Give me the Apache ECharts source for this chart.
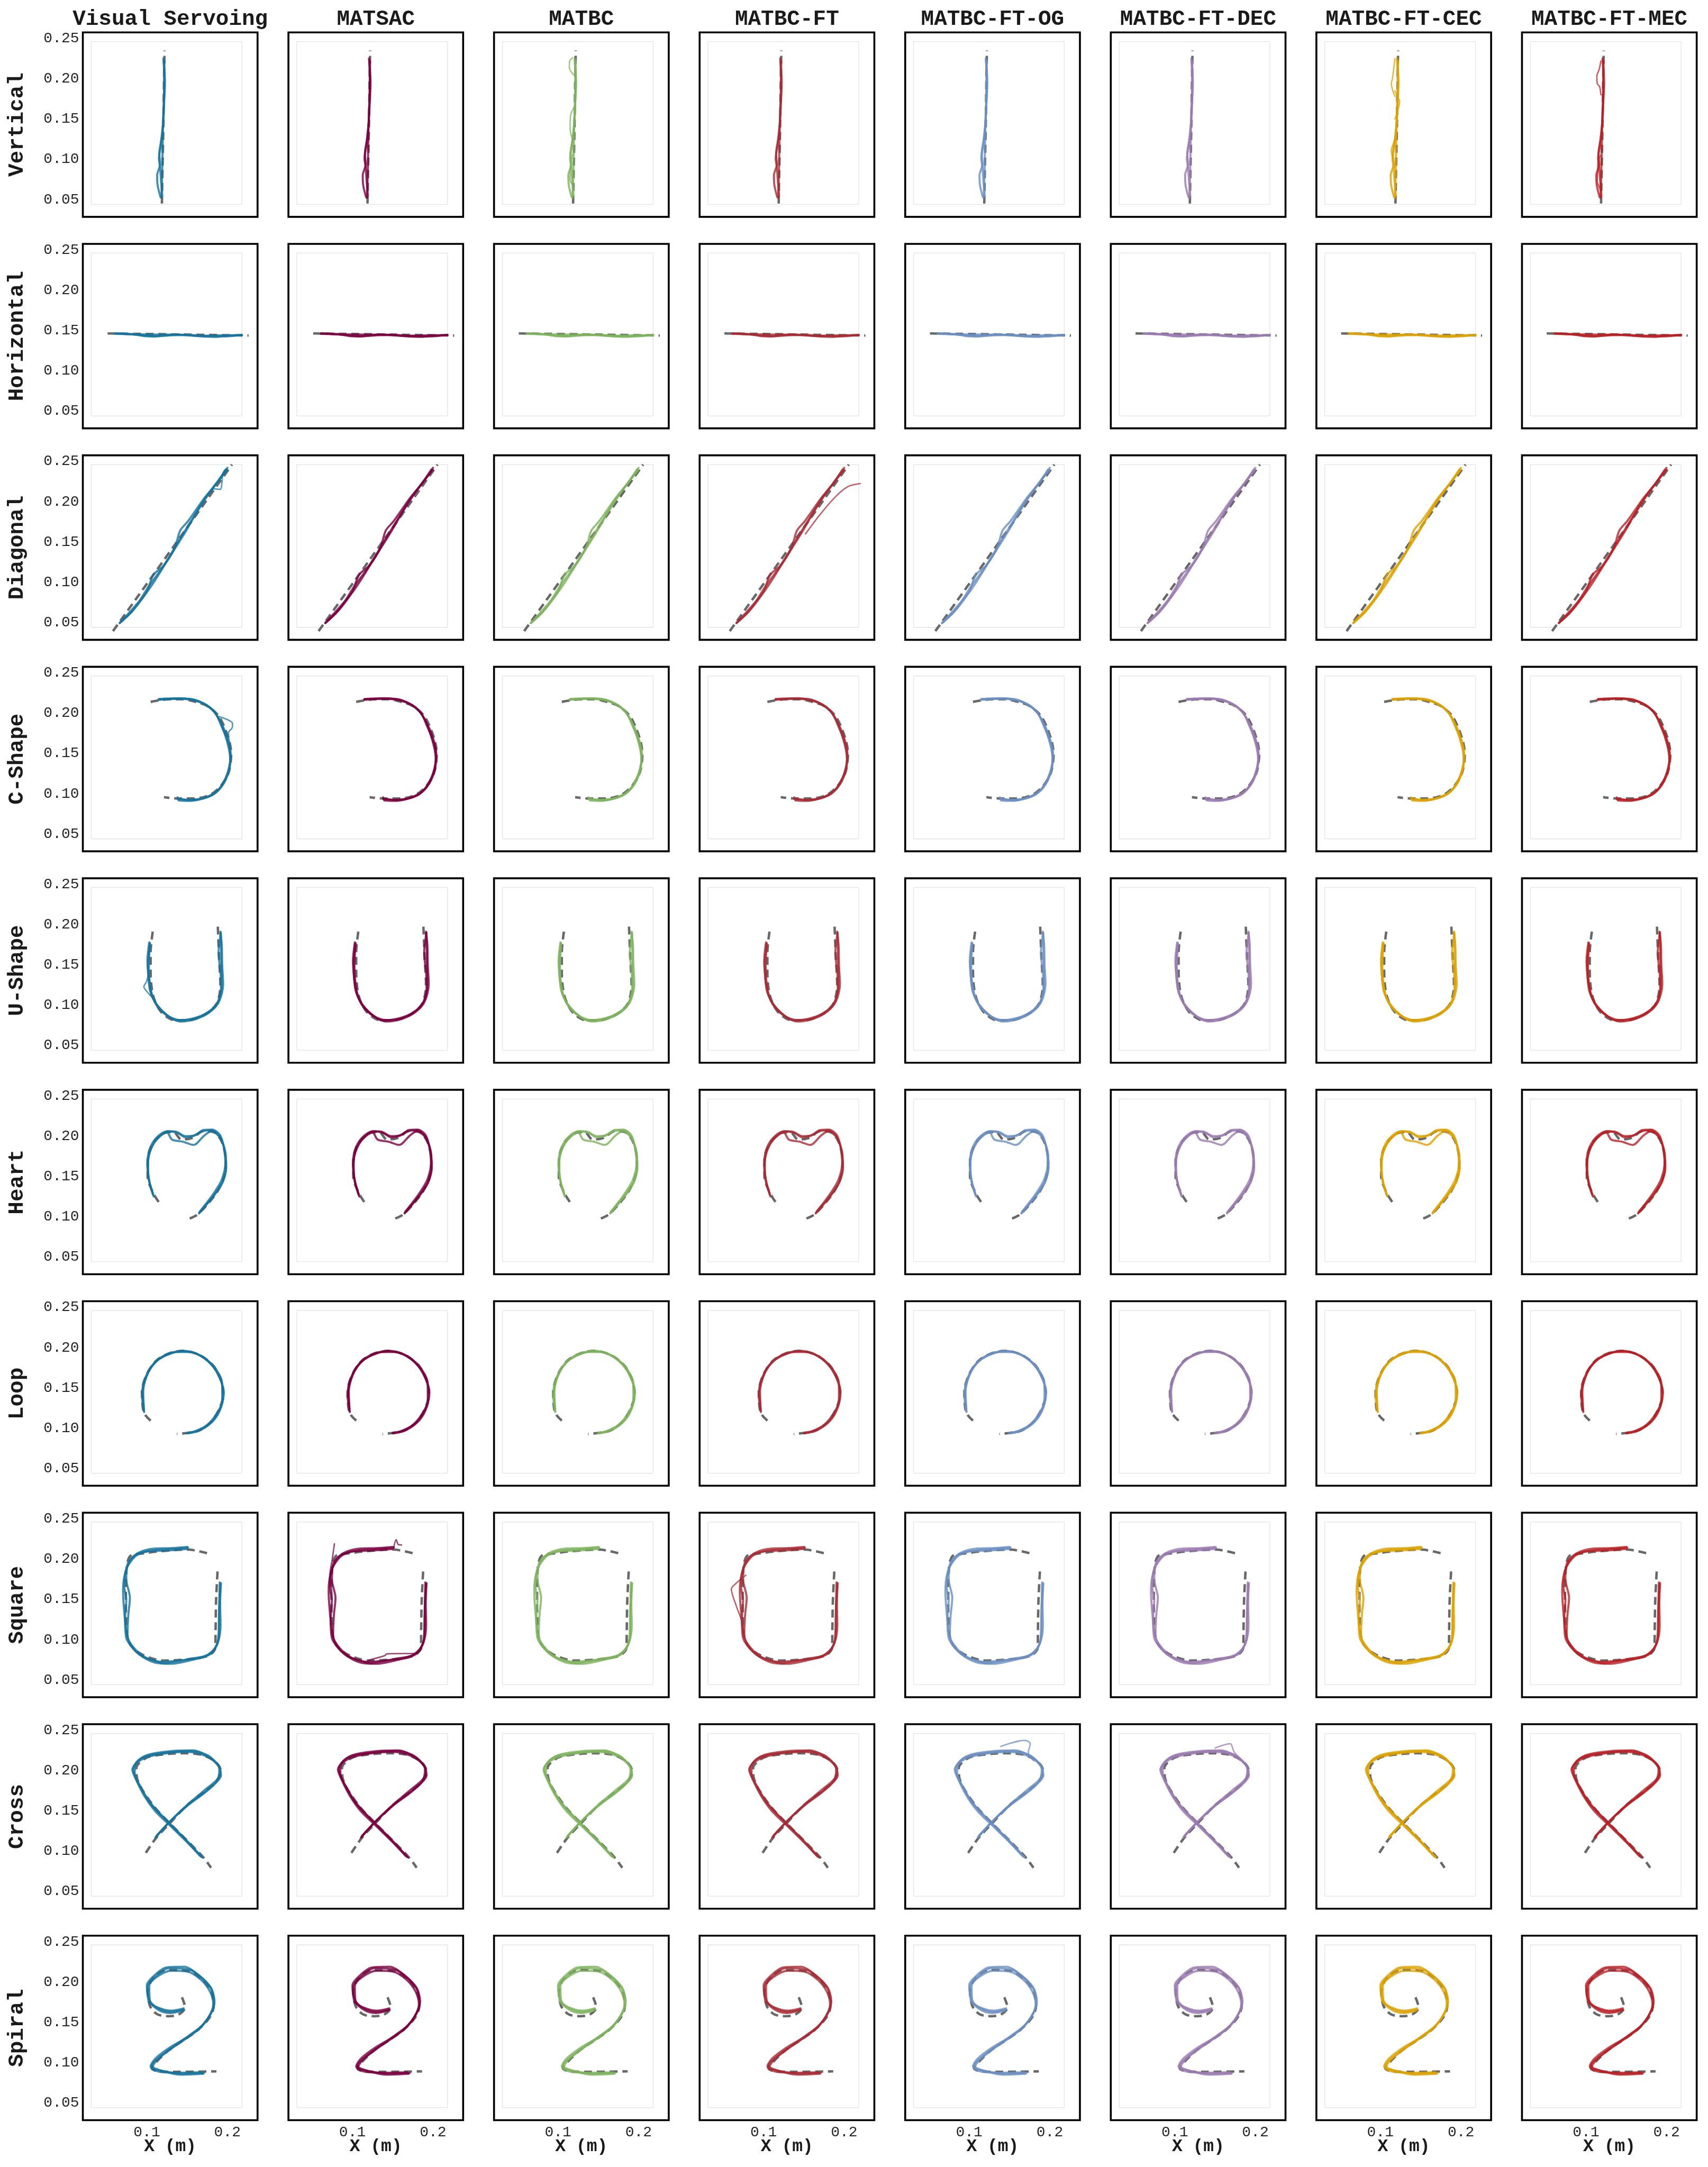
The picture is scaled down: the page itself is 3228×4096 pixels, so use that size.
<!DOCTYPE html>
<html>
<head>
<meta charset="utf-8">
<script src="https://cdn.jsdelivr.net/npm/echarts@6/dist/echarts.min.js"></script>
<style>
html,body{margin:0;padding:0;background:#fff;}
#chart{width:3228px;height:4096px;}
</style>
</head>
<body>
<div id="chart"></div>
<script>
// ---------------- DATA ----------------
const methods = ['Visual Servoing','MATSAC','MATBC','MATBC-FT','MATBC-FT-OG','MATBC-FT-DEC','MATBC-FT-CEC','MATBC-FT-MEC'];
const shapes = ['Vertical','Horizontal','Diagonal','C-Shape','U-Shape','Heart','Loop','Square','Cross','Spiral'];
const xTickValues = [0.1, 0.2];
const yTickValues = [0.05, 0.10, 0.15, 0.20, 0.25];
const xRange = [0.0206, 0.2374];
const yRange = [0.0285, 0.2575];
const workspaceX = [0.031, 0.218];
const workspaceY = [0.044, 0.246];
const xAxisName = 'X (m)';

const refVertical = [[0.1187,0.045],[0.1195,0.09],[0.1205,0.14],[0.1212,0.19],[0.122,0.235]];
const trialsVertical = [
  [[0.118,0.052],[0.119,0.08],[0.1195,0.11],[0.120,0.14],[0.121,0.17],[0.1215,0.20],[0.121,0.222]],
  [[0.117,0.053],[0.1135,0.067],[0.1128,0.080],[0.1165,0.094],[0.1155,0.107],[0.118,0.125],[0.1205,0.150],[0.1215,0.180],[0.1218,0.222]],
  [[0.1192,0.055],[0.1175,0.075],[0.1165,0.090],[0.1150,0.101],[0.1172,0.116],[0.1195,0.135],[0.1208,0.160],[0.1225,0.195],[0.1205,0.225]]
];

const refHorizontal = [[0.0513,0.1463],[0.14,0.1450],[0.2263,0.1437]];
const trialsHorizontal = [
  [[0.061,0.1463],[0.09,0.1445],[0.108,0.1425],[0.13,0.1440],[0.15,0.1443],[0.17,0.1425],[0.185,0.1420],[0.20,0.1435],[0.218,0.1442]],
  [[0.061,0.1458],[0.09,0.1452],[0.12,0.1448],[0.15,0.1445],[0.175,0.1435],[0.195,0.1440],[0.218,0.1440]],
  [[0.062,0.1465],[0.085,0.1450],[0.10,0.1428],[0.115,0.1432],[0.135,0.1452],[0.15,0.1440],[0.162,0.1432],[0.18,0.1430],[0.195,0.1426],[0.218,0.1447]]
];

const refDiagonal = [[0.058,0.0393],[0.132,0.1427],[0.2057,0.246]];
const trialsDiagonal = [
  [[0.0663,0.0493],[0.0813,0.0633],[0.0997,0.0877],[0.1080,0.1090],[0.1213,0.1210],[0.1347,0.1427],[0.1413,0.1640],[0.1513,0.1760],[0.1713,0.2043],[0.1850,0.2210],[0.1980,0.2400]],
  [[0.0663,0.0493],[0.1013,0.0893],[0.1280,0.1310],[0.1480,0.1627],[0.1713,0.2027],[0.1997,0.2393]],
  [[0.0670,0.0500],[0.0850,0.0680],[0.1030,0.0960],[0.1150,0.1120],[0.1300,0.1350],[0.1400,0.1520],[0.1550,0.1760],[0.1750,0.2070],[0.1950,0.2340],[0.2000,0.2420]]
];

const refCShape = [[0.1047,0.2140],[0.1250,0.2170],[0.1447,0.2173],[0.1620,0.2135],[0.1747,0.2090],[0.1897,0.1957],[0.2013,0.1690],[0.2047,0.1490],[0.2013,0.1257],[0.1913,0.1090],[0.1780,0.0983],[0.1580,0.0940],[0.1380,0.0940],[0.1213,0.0957]];
const trialsCShape = [
  [[0.1147,0.2170],[0.1350,0.2180],[0.1547,0.2175],[0.1720,0.2110],[0.1850,0.2000],[0.1930,0.1830],[0.2000,0.1660],[0.2037,0.1480],[0.2023,0.1300],[0.1950,0.1120],[0.1830,0.0993],[0.1680,0.0935],[0.1520,0.0910],[0.1400,0.0915],[0.1380,0.0955]],
  [[0.1147,0.2165],[0.1400,0.2178],[0.1650,0.2140],[0.1820,0.2035],[0.1910,0.1900],[0.1990,0.1720],[0.2040,0.1500],[0.2000,0.1250],[0.1900,0.1060],[0.1750,0.0960],[0.1550,0.0920],[0.1390,0.0940]],
  [[0.1150,0.2175],[0.1400,0.2185],[0.1600,0.2160],[0.1780,0.2075],[0.1900,0.1920],[0.1965,0.1750],[0.2020,0.1550],[0.2035,0.1400],[0.1990,0.1220],[0.1880,0.1040],[0.1720,0.0950],[0.1500,0.0925],[0.1390,0.0930]]
];

const refUShape = [[0.1073,0.1913],[0.1047,0.1650],[0.1047,0.1413],[0.1080,0.1113],[0.1180,0.0913],[0.1347,0.0813],[0.1513,0.0813],[0.1713,0.0880],[0.1863,0.1013],[0.1913,0.1247],[0.1897,0.1580],[0.1880,0.1997]];
const trialsUShape = [
  [[0.1030,0.1780],[0.1007,0.1550],[0.1020,0.1350],[0.1040,0.1180],[0.1097,0.1047],[0.1180,0.0940],[0.1247,0.0880],[0.1340,0.0820],[0.1430,0.0797],[0.1613,0.0830],[0.1780,0.0913],[0.1897,0.1047],[0.1947,0.1263],[0.1935,0.1500],[0.1930,0.1750],[0.1913,0.1913]],
  [[0.1035,0.1760],[0.1015,0.1500],[0.1025,0.1300],[0.1080,0.1080],[0.1200,0.0920],[0.1380,0.0810],[0.1550,0.0830],[0.1720,0.0890],[0.1860,0.1000],[0.1920,0.1200],[0.1915,0.1400],[0.1890,0.1650],[0.1905,0.1800],[0.1915,0.1900]],
  [[0.1040,0.1770],[0.1025,0.1480],[0.1040,0.1250],[0.1080,0.1080],[0.1150,0.0960],[0.1270,0.0860],[0.1420,0.0815],[0.1600,0.0835],[0.1750,0.0905],[0.1880,0.1035],[0.1930,0.1250],[0.1925,0.1550],[0.1918,0.1900]]
];

const refHeart = [[0.1147,0.1183],[0.1075,0.1300],[0.1010,0.1500],[0.1010,0.1700],[0.1070,0.1900],[0.1200,0.2030],[0.1330,0.2050],[0.1430,0.1957],[0.1570,0.1980],[0.1700,0.2060],[0.1830,0.2050],[0.1930,0.1930],[0.1980,0.1700],[0.1960,0.1500],[0.1880,0.1320],[0.1750,0.1150],[0.1620,0.1020],[0.1497,0.0963]];
const trialsHeart = [
  [[0.1080,0.1273],[0.1030,0.1440],[0.1007,0.1640],[0.1030,0.1823],[0.1113,0.1973],[0.1247,0.2057],[0.1347,0.2057],[0.1480,0.2000],[0.1580,0.2007],[0.1680,0.2057],[0.1797,0.2073],[0.1897,0.2007],[0.1963,0.1840],[0.1980,0.1640],[0.1947,0.1440],[0.1863,0.1307],[0.1747,0.1157],[0.1647,0.1040]],
  [[0.1085,0.1250],[0.1035,0.1420],[0.1012,0.1600],[0.1035,0.1800],[0.1120,0.1955],[0.1250,0.2045],[0.1313,0.1957],[0.1450,0.1930],[0.1580,0.1890],[0.1713,0.2007],[0.1800,0.2060],[0.1900,0.1990],[0.1970,0.1820],[0.1985,0.1600],[0.1935,0.1420],[0.1840,0.1270],[0.1720,0.1130],[0.1650,0.1045]],
  [[0.1075,0.1280],[0.1025,0.1460],[0.1015,0.1680],[0.1060,0.1860],[0.1150,0.1990],[0.1260,0.2062],[0.1380,0.2040],[0.1480,0.1985],[0.1600,0.2010],[0.1700,0.2075],[0.1810,0.2080],[0.1910,0.2010],[0.1955,0.1860],[0.1975,0.1660],[0.1930,0.1460],[0.1850,0.1320],[0.1750,0.1180],[0.1655,0.1060]]
];

const refLoop = [[0.1047,0.1093],[0.0963,0.1193],[0.0940,0.1450],[0.1000,0.1670],[0.1120,0.1840],[0.1280,0.1930],[0.1450,0.1960],[0.1650,0.1910],[0.1820,0.1780],[0.1920,0.1600],[0.1950,0.1420],[0.1900,0.1240],[0.1800,0.1080],[0.1650,0.0970],[0.1500,0.0940],[0.1373,0.0927]];
const trialsLoop = [
  [[0.0963,0.1210],[0.0947,0.1493],[0.1013,0.1693],[0.1113,0.1827],[0.1247,0.1910],[0.1447,0.1960],[0.1647,0.1910],[0.1813,0.1777],[0.1913,0.1610],[0.1947,0.1427],[0.1913,0.1260],[0.1830,0.1110],[0.1713,0.1010],[0.1580,0.0953],[0.1497,0.0937]],
  [[0.0965,0.1230],[0.0955,0.1450],[0.1000,0.1650],[0.1100,0.1810],[0.1240,0.1905],[0.1440,0.1955],[0.1630,0.1915],[0.1800,0.1790],[0.1900,0.1630],[0.1955,0.1450],[0.1925,0.1270],[0.1845,0.1115],[0.1720,0.1005],[0.1590,0.0950],[0.1500,0.0935]],
  [[0.0968,0.1200],[0.0940,0.1400],[0.0980,0.1600],[0.1055,0.1760],[0.1180,0.1880],[0.1350,0.1945],[0.1520,0.1945],[0.1700,0.1880],[0.1850,0.1740],[0.1935,0.1550],[0.1935,0.1330],[0.1860,0.1170],[0.1750,0.1040],[0.1610,0.0965],[0.1510,0.0945]]
];

const refSquare = [[0.1747,0.2073],[0.1513,0.2117],[0.1200,0.2100],[0.0950,0.2070],[0.0797,0.2040],[0.0750,0.1900],[0.0740,0.1500],[0.0750,0.1100],[0.0800,0.0930],[0.0950,0.0810],[0.1200,0.0740],[0.1500,0.0755],[0.1763,0.0800],[0.1850,0.0900],[0.1853,0.1123],[0.1860,0.1500],[0.1880,0.1890]];
const trialsSquare = [
  [[0.1513,0.2140],[0.1300,0.2125],[0.1100,0.2110],[0.0920,0.2070],[0.0830,0.2007],[0.0740,0.1860],[0.0720,0.1660],[0.0745,0.1490],[0.0730,0.1260],[0.0745,0.1020],[0.0830,0.0890],[0.0947,0.0790],[0.1080,0.0745],[0.1213,0.0707],[0.1400,0.0735],[0.1513,0.0757],[0.1747,0.0807],[0.1863,0.0923],[0.1897,0.1090],[0.1900,0.1390],[0.1913,0.1690]],
  [[0.1500,0.2125],[0.1250,0.2105],[0.1000,0.2095],[0.0850,0.2045],[0.0765,0.1950],[0.0745,0.1750],[0.0790,0.1520],[0.0770,0.1300],[0.0760,0.1050],[0.0850,0.0885],[0.1000,0.0770],[0.1200,0.0725],[0.1450,0.0745],[0.1700,0.0785],[0.1830,0.0870],[0.1885,0.1000],[0.1895,0.1300],[0.1900,0.1500],[0.1905,0.1710]],
  [[0.1505,0.2150],[0.1300,0.2135],[0.1100,0.2130],[0.0900,0.2080],[0.0795,0.1980],[0.0725,0.1800],[0.0705,0.1600],[0.0715,0.1400],[0.0740,0.1150],[0.0780,0.0970],[0.0900,0.0820],[0.1100,0.0715],[0.1300,0.0700],[0.1550,0.0745],[0.1780,0.0815],[0.1880,0.0960],[0.1915,0.1180],[0.1910,0.1450],[0.1920,0.1700]]
];

const refCross = [[0.0987,0.0977],[0.1113,0.1160],[0.1280,0.1340],[0.1500,0.1570],[0.1720,0.1740],[0.1860,0.1860],[0.1920,0.1990],[0.1860,0.2100],[0.1700,0.2190],[0.1500,0.2215],[0.1250,0.2205],[0.1000,0.2160],[0.0870,0.2030],[0.0880,0.1900],[0.0950,0.1750],[0.1100,0.1540],[0.1280,0.1350],[0.1500,0.1130],[0.1697,0.0927],[0.1797,0.0793]];
const trialsCross = [
  [[0.1113,0.1177],[0.1280,0.1360],[0.1513,0.1577],[0.1713,0.1727],[0.1863,0.1860],[0.1913,0.1993],[0.1863,0.2093],[0.1747,0.2193],[0.1547,0.2243],[0.1280,0.2227],[0.0980,0.2177],[0.0880,0.2110],[0.0830,0.2027],[0.0913,0.1810],[0.1063,0.1577],[0.1263,0.1360],[0.1480,0.1143],[0.1680,0.0927]],
  [[0.1120,0.1190],[0.1300,0.1380],[0.1520,0.1590],[0.1720,0.1760],[0.1880,0.1900],[0.1900,0.2020],[0.1840,0.2110],[0.1720,0.2185],[0.1520,0.2230],[0.1250,0.2215],[0.0960,0.2150],[0.0820,0.2010],[0.0860,0.1900],[0.0960,0.1700],[0.1100,0.1500],[0.1280,0.1325],[0.1500,0.1110],[0.1665,0.0935]],
  [[0.1105,0.1165],[0.1270,0.1350],[0.1500,0.1560],[0.1700,0.1710],[0.1830,0.1820],[0.1920,0.1940],[0.1890,0.2060],[0.1770,0.2170],[0.1570,0.2250],[0.1300,0.2240],[0.1000,0.2190],[0.0860,0.2080],[0.0850,0.1960],[0.0930,0.1780],[0.1035,0.1600],[0.1250,0.1375],[0.1470,0.1155],[0.1690,0.0920]]
];

const refSpiral = [[0.1436,0.1810],[0.1475,0.1683],[0.1400,0.1600],[0.1280,0.1575],[0.1130,0.1600],[0.1040,0.1700],[0.1010,0.1880],[0.1080,0.2050],[0.1250,0.2150],[0.1500,0.2140],[0.1680,0.2040],[0.1800,0.1880],[0.1830,0.1700],[0.1780,0.1560],[0.1640,0.1410],[0.1460,0.1280],[0.1280,0.1160],[0.1120,0.1010],[0.1060,0.0930],[0.1150,0.0890],[0.1400,0.0885],[0.1864,0.0891]];
const trialsSpiral = [
  [[0.1456,0.1673],[0.1300,0.1644],[0.1164,0.1673],[0.1027,0.1751],[0.1008,0.1928],[0.1125,0.2084],[0.1280,0.2172],[0.1533,0.2152],[0.1690,0.2045],[0.1807,0.1908],[0.1834,0.1732],[0.1787,0.1595],[0.1670,0.1439],[0.1514,0.1322],[0.1280,0.1184],[0.1105,0.1049],[0.1047,0.0950],[0.1125,0.0911],[0.1436,0.0862],[0.1709,0.0871]],
  [[0.1445,0.1645],[0.1290,0.1615],[0.1150,0.1650],[0.1040,0.1760],[0.1030,0.1950],[0.1120,0.2060],[0.1300,0.2140],[0.1500,0.2130],[0.1670,0.2030],[0.1785,0.1880],[0.1825,0.1720],[0.1770,0.1570],[0.1650,0.1420],[0.1490,0.1300],[0.1300,0.1170],[0.1125,0.1030],[0.1065,0.0930],[0.1200,0.0880],[0.1450,0.0875],[0.1680,0.0880]],
  [[0.1460,0.1660],[0.1305,0.1630],[0.1165,0.1660],[0.1035,0.1770],[0.1000,0.1960],[0.1080,0.2070],[0.1240,0.2180],[0.1460,0.2190],[0.1650,0.2080],[0.1790,0.1930],[0.1840,0.1760],[0.1795,0.1610],[0.1685,0.1460],[0.1530,0.1340],[0.1350,0.1210],[0.1150,0.1060],[0.1060,0.0965],[0.1180,0.0900],[0.1430,0.0850],[0.1700,0.0860]]
];

// panel-specific extra trials (shape, method, path)
const extraVsDiagonal = [[0.1780,0.2100],[0.1813,0.2160],[0.1910,0.2153],[0.1947,0.2363],[0.1990,0.2410]];
const extraVsCShape = [[0.1897,0.1957],[0.2063,0.1873],[0.2060,0.1820],[0.2013,0.1757],[0.2030,0.1600]];
const extraVsUShape = [[0.1013,0.1350],[0.0990,0.1280],[0.0963,0.1230],[0.1000,0.1170],[0.1080,0.1080]];
const extraFtDiagonal = [[0.1520,0.1600],[0.1700,0.1840],[0.1900,0.2070],[0.2050,0.2190],[0.2200,0.2225]];
const extraFtSquare = [[0.0780,0.1800],[0.0660,0.1700],[0.0600,0.1630],[0.0660,0.1420],[0.0727,0.1230],[0.0745,0.1050]];
const extraSacSquareTop = [[0.1513,0.2140],[0.1543,0.2240],[0.1570,0.2180],[0.1610,0.2175]];
const extraSacSquareLeft = [[0.0777,0.2190],[0.0750,0.2000],[0.0720,0.1800],[0.0745,0.1600]];
const extraSacSquareBottom = [[0.1200,0.0745],[0.1400,0.0800],[0.1427,0.0823],[0.1790,0.0830],[0.1860,0.0890]];
const extraOgCross = [[0.1393,0.2299],[0.1687,0.2374],[0.1758,0.2333],[0.1733,0.2225],[0.1800,0.2120]];
const extraDecCross = [[0.1500,0.2280],[0.1687,0.2333],[0.1735,0.2232],[0.1820,0.2140]];
const extraBcVerticalTop = [[0.1180,0.2260],[0.1145,0.2220],[0.1140,0.2140],[0.1190,0.2050]];
const extraBcVerticalMid = [[0.1200,0.1650],[0.1155,0.1540],[0.1150,0.1400],[0.1160,0.1310],[0.1190,0.1220]];
const extraBcVerticalLow = [[0.1190,0.1080],[0.1160,0.0980],[0.1150,0.0850],[0.1150,0.0740],[0.1180,0.0680]];
const extraCecVerticalTop = [[0.1180,0.2250],[0.1165,0.2120],[0.1150,0.2000],[0.1135,0.1940],[0.1155,0.1850],[0.1180,0.1780]];
const extraCecVerticalMid = [[0.1180,0.1850],[0.1210,0.1780],[0.1240,0.1720],[0.1215,0.1600],[0.1180,0.1500]];
const extraCecVerticalLow = [[0.1180,0.1250],[0.1155,0.1180],[0.1135,0.1110],[0.1155,0.1000],[0.1180,0.0900]];
const extraMecVerticalTop = [[0.1185,0.2220],[0.1165,0.2120],[0.1135,0.2030],[0.1140,0.1940],[0.1170,0.1900],[0.1185,0.1800]];
const extraMecVerticalLow = [[0.1185,0.1050],[0.1150,0.0980],[0.1145,0.0850],[0.1140,0.0720],[0.1155,0.0680],[0.1185,0.0600]];
const extraTrialList = [
  ['Diagonal','Visual Servoing',extraVsDiagonal],
  ['C-Shape','Visual Servoing',extraVsCShape],
  ['U-Shape','Visual Servoing',extraVsUShape],
  ['Diagonal','MATBC-FT',extraFtDiagonal],
  ['Square','MATBC-FT',extraFtSquare],
  ['Square','MATSAC',extraSacSquareTop],
  ['Square','MATSAC',extraSacSquareLeft],
  ['Square','MATSAC',extraSacSquareBottom],
  ['Cross','MATBC-FT-OG',extraOgCross],
  ['Cross','MATBC-FT-DEC',extraDecCross],
  ['Vertical','MATBC',extraBcVerticalTop],
  ['Vertical','MATBC',extraBcVerticalMid],
  ['Vertical','MATBC',extraBcVerticalLow],
  ['Vertical','MATBC-FT-CEC',extraCecVerticalTop],
  ['Vertical','MATBC-FT-CEC',extraCecVerticalMid],
  ['Vertical','MATBC-FT-CEC',extraCecVerticalLow],
  ['Vertical','MATBC-FT-MEC',extraMecVerticalTop],
  ['Vertical','MATBC-FT-MEC',extraMecVerticalLow]
];

const refByShape = [refVertical,refHorizontal,refDiagonal,refCShape,refUShape,refHeart,refLoop,refSquare,refCross,refSpiral];
const trialsByShape = [trialsVertical,trialsHorizontal,trialsDiagonal,trialsCShape,trialsUShape,trialsHeart,trialsLoop,trialsSquare,trialsCross,trialsSpiral];

// ---------------- STYLE / LAYOUT ----------------
const methodColors = ['#15739e','#7a0040','#7db35c','#a82a35','#6a8fc2','#9a7bb0','#dca100','#b82025'];
const S = 3228 / 4536;
const FONT = '"Liberation Mono", "Courier New", monospace';

const grids = [], xAxes = [], yAxes = [], series = [], graphics = [];
const frameW = 464 * S, frameH = 490 * S;

shapes.forEach((shape, r) => {
  methods.forEach((method, c) => {
    const gi = r * methods.length + c;
    const left = (220 + c * 546) * S;
    const top = (86 + r * 561.7) * S;
    grids.push({
      left: left, top: top, width: frameW, height: frameH,
      show: true, borderColor: '#000', borderWidth: 3.6, backgroundColor: '#fff',
      containLabel: false, outerBoundsMode: 'none'
    });
    xAxes.push({
      gridIndex: gi, type: 'value', min: xRange[0], max: xRange[1],
      axisLine: {show: false}, axisTick: {show: false}, splitLine: {show: false},
      axisLabel: {
        show: r === shapes.length - 1, customValues: xTickValues,
        formatter: v => v.toFixed(1), fontFamily: FONT, fontSize: 28, color: '#262626', margin: 9
      }
    });
    yAxes.push({
      gridIndex: gi, type: 'value', min: yRange[0], max: yRange[1],
      axisLine: {show: false}, axisTick: {show: false}, splitLine: {show: false},
      axisLabel: {
        show: c === 0, customValues: yTickValues,
        formatter: v => v.toFixed(2), fontFamily: FONT, fontSize: 28, color: '#262626', margin: 7
      }
    });
    // workspace box
    series.push({
      type: 'line', xAxisIndex: gi, yAxisIndex: gi, silent: true, animation: false,
      symbol: 'none', showSymbol: false,
      data: [[workspaceX[0],workspaceY[0]],[workspaceX[1],workspaceY[0]],[workspaceX[1],workspaceY[1]],[workspaceX[0],workspaceY[1]],[workspaceX[0],workspaceY[0]]],
      lineStyle: {color: '#e3e3e3', width: 1.3}, z: 1
    });
    // reference path
    series.push({
      type: 'line', xAxisIndex: gi, yAxisIndex: gi, silent: true, animation: false,
      symbol: 'none', showSymbol: false, smooth: 0.3,
      data: refByShape[r],
      lineStyle: {color: '#686868', width: 4.6, type: [15, 9], cap: 'butt'}, z: 2
    });
    trialsByShape[r].forEach(p => {
      series.push({
        type: 'line', xAxisIndex: gi, yAxisIndex: gi, silent: true, animation: false,
        symbol: 'none', showSymbol: false, smooth: 0.3,
        data: p,
        lineStyle: {color: methodColors[c], width: 3.9, opacity: 0.8, cap: 'round', join: 'round'}, z: 3
      });
    });
    extraTrialList.forEach(e => {
      if (e[0] === shape && e[1] === method) {
        series.push({
          type: 'line', xAxisIndex: gi, yAxisIndex: gi, silent: true, animation: false,
          symbol: 'none', showSymbol: false, smooth: 0.3,
          data: e[2],
          lineStyle: {color: methodColors[c], width: 2.6, opacity: 0.75, cap: 'round', join: 'round'}, z: 3
        });
      }
    });
  });
});

// column titles and x-axis names
methods.forEach((m, c) => {
  graphics.push({
    type: 'text', x: (220 + c * 546 + 232) * S, y: 52 * S,
    style: {text: m, fontFamily: FONT, fontWeight: 'bold', fontSize: 41, fill: '#1a1a1a',
            textAlign: 'center', align: 'center', textVerticalAlign: 'middle', verticalAlign: 'middle'}
  });
  graphics.push({
    type: 'text', x: (220 + c * 546 + 232) * S, y: (86 + (shapes.length - 1) * 561.7 + 490 + 71) * S,
    style: {text: xAxisName, fontFamily: FONT, fontWeight: 'bold', fontSize: 33, fill: '#1a1a1a',
            textAlign: 'center', align: 'center', textVerticalAlign: 'middle', verticalAlign: 'middle'}
  });
});
// row labels
shapes.forEach((s, r) => {
  graphics.push({
    type: 'text', x: 46 * S, y: (86 + r * 561.7 + 245) * S, rotation: Math.PI / 2,
    style: {text: s, fontFamily: FONT, fontWeight: 'bold', fontSize: 41, fill: '#1a1a1a',
            textAlign: 'center', align: 'center', textVerticalAlign: 'middle', verticalAlign: 'middle'}
  });
});

const chart = echarts.init(document.getElementById('chart'), null, {renderer: 'canvas'});
chart.setOption({
  backgroundColor: '#ffffff',
  animation: false,
  grid: grids, xAxis: xAxes, yAxis: yAxes, series: series,
  graphic: {elements: graphics}
});
</script>
</body>
</html>
